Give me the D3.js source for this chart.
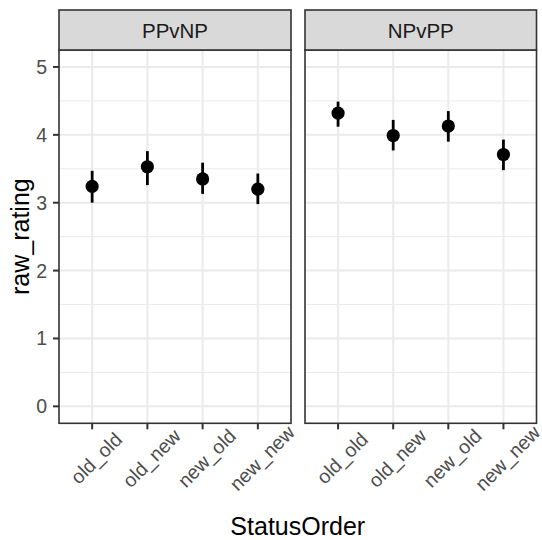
<!DOCTYPE html>
<html>
<head>
<meta charset="utf-8">
<script src="https://cdn.jsdelivr.net/npm/d3@7"></script>
<style>
  body { margin: 0; background: #fff; }
  text { font-family: "Liberation Sans", Arial, sans-serif; }
</style>
</head>
<body>
<div id="chart"></div>
<script>
// data
const panels = ["PPvNP", "NPvPP"];
const orders = ["old_old", "old_new", "new_old", "new_new"];
const means = [
  [3.24, 3.53, 3.35, 3.20],
  [4.32, 3.99, 4.13, 3.71]
];
const lows = [
  [3.00, 3.26, 3.13, 2.98],
  [4.12, 3.77, 3.90, 3.48]
];
const highs = [
  [3.47, 3.76, 3.59, 3.43],
  [4.49, 4.22, 4.35, 3.93]
];
const yTicks = [0, 1, 2, 3, 4, 5];
const yMinor = [0.5, 1.5, 2.5, 3.5, 4.5];

const W = 542, H = 540;
const panelX = [[59, 291], [305, 536.5]];
const stripTop = 10, panelTop = 50, panelBottom = 423.3;

let svg = d3.select("#chart").append("svg")
    .attr("width", W).attr("height", H);

let y = d3.scaleLinear().domain([-0.25, 5.25]).range([panelBottom, panelTop]);

panels.forEach((name, p) => {
    let x0 = panelX[p][0], x1 = panelX[p][1];
    let x = d3.scalePoint().domain(orders).range([x0, x1]).padding(0.6);
    let g = svg.append("g").attr("class", "panel");

    // grid
    g.selectAll(".minor").data(yMinor).join("line")
        .attr("x1", x0).attr("x2", x1)
        .attr("y1", d => y(d)).attr("y2", d => y(d))
        .attr("stroke", "#ebebeb").attr("stroke-width", 1);
    g.selectAll(".majorY").data(yTicks).join("line")
        .attr("x1", x0).attr("x2", x1)
        .attr("y1", d => y(d)).attr("y2", d => y(d))
        .attr("stroke", "#ebebeb").attr("stroke-width", 2);
    g.selectAll(".majorX").data(orders).join("line")
        .attr("x1", d => x(d)).attr("x2", d => x(d))
        .attr("y1", panelTop).attr("y2", panelBottom)
        .attr("stroke", "#ebebeb").attr("stroke-width", 2);

    // error bars + points
    orders.forEach((o, i) => {
        g.append("line")
            .attr("x1", x(o)).attr("x2", x(o))
            .attr("y1", y(lows[p][i])).attr("y2", y(highs[p][i]))
            .attr("stroke", "#000").attr("stroke-width", 2.8);
        g.append("circle")
            .attr("cx", x(o)).attr("cy", y(means[p][i]))
            .attr("r", 6.6).attr("fill", "#000");
    });

    // border
    g.append("rect")
        .attr("x", x0).attr("y", panelTop)
        .attr("width", x1 - x0).attr("height", panelBottom - panelTop)
        .attr("fill", "none").attr("stroke", "#333333").attr("stroke-width", 1.6);

    // strip
    g.append("rect")
        .attr("x", x0).attr("y", stripTop)
        .attr("width", x1 - x0).attr("height", panelTop - stripTop)
        .attr("fill", "#d9d9d9").attr("stroke", "#333333").attr("stroke-width", 1.6);
    g.append("text")
        .attr("x", (x0 + x1) / 2).attr("y", 38)
        .attr("text-anchor", "middle")
        .attr("font-size", 20.5).attr("fill", "#1a1a1a")
        .text(name);

    // x ticks + labels
    g.selectAll(".xtick").data(orders).join("line")
        .attr("x1", d => x(d)).attr("x2", d => x(d))
        .attr("y1", panelBottom).attr("y2", panelBottom + 6)
        .attr("stroke", "#333333").attr("stroke-width", 2);
    g.selectAll(".xlab").data(orders).join("text")
        .attr("transform", d => "translate(" + (x(d) + 4) + "," + 458 + ")rotate(-45)")
        .attr("text-anchor", "middle")
        .attr("dominant-baseline", "central")
        .attr("font-size", 19.5).attr("fill", "#4d4d4d")
        .text(d => d);

    // y axis only on first panel
    if (p === 0) {
        g.selectAll(".ytick").data(yTicks).join("line")
            .attr("x1", x0 - 6).attr("x2", x0)
            .attr("y1", d => y(d)).attr("y2", d => y(d))
            .attr("stroke", "#333333").attr("stroke-width", 2);
        g.selectAll(".ylab").data(yTicks).join("text")
            .attr("x", x0 - 12).attr("y", d => y(d))
            .attr("text-anchor", "end")
            .attr("dominant-baseline", "central")
            .attr("font-size", 19.5).attr("fill", "#4d4d4d")
            .text(d => d);
    }
});

// axis titles
svg.append("text")
    .attr("x", (panelX[0][0] + panelX[1][1]) / 2).attr("y", 535)
    .attr("text-anchor", "middle")
    .attr("font-size", 25).attr("fill", "#000")
    .text("StatusOrder");
svg.append("text")
    .attr("transform", "translate(28.5," + ((panelTop + panelBottom) / 2) + ")rotate(-90)")
    .attr("text-anchor", "middle")
    .attr("font-size", 25).attr("fill", "#000")
    .text("raw_rating");
</script>
</body>
</html>
